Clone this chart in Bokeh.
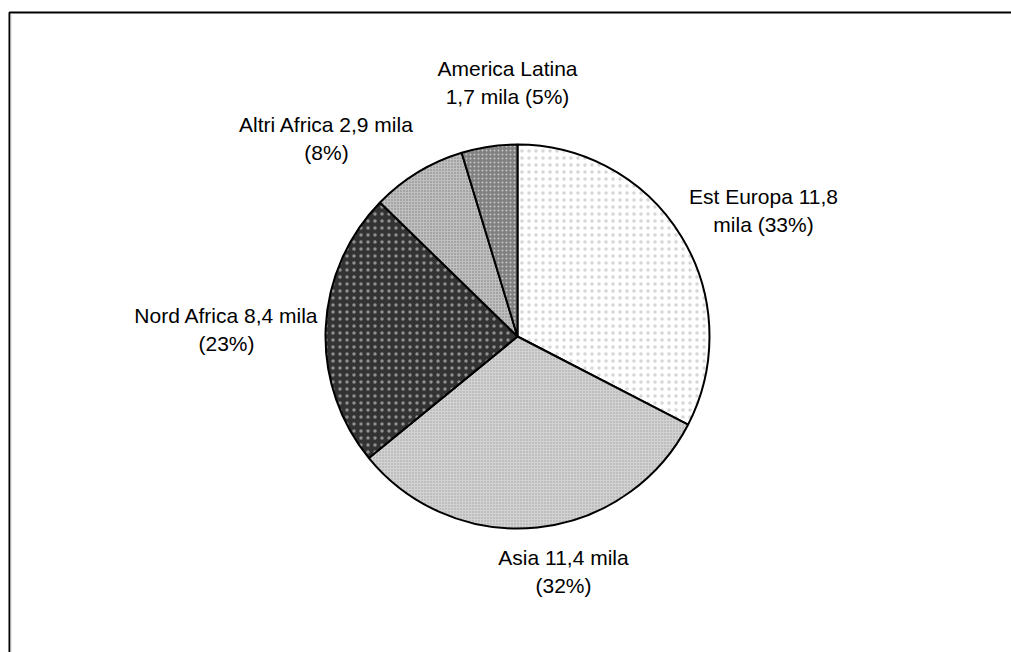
import math

from bokeh.core.properties import value
from bokeh.embed import file_html
from bokeh.models import Range1d
from bokeh.plotting import figure
from bokeh.resources import INLINE

# Foreign residents by area of origin (thousands)
areas = ["Est Europa", "Asia", "Nord Africa", "Altri Africa", "America Latina"]
thousands = [11.8, 11.4, 8.4, 2.9, 1.7]
percent_labels = [33, 32, 23, 8, 5]

# how many words of each label go on its first line
first_line_words = [3, 3, 4, 4, 2]

# page geometry (one data unit = one pixel, y measured downwards then flipped)
W, H = 1011, 652
CX, CY, R = 517, 336, 192
# label block centres, relative to the pie centre
label_offsets = [(246, -126), (46, 235), (-291, -7), (-191, -198), (-10, -254)]
LINE_GAP = 28

# slice styling: base colour + fine dot texture
slice_styles = [
    dict(fill_color="#ffffff", hatch_color="#8a8a8a", hatch_scale=7, hatch_alpha=0.35),
    dict(fill_color="#d2d2d2", hatch_color="#a0a0a0", hatch_scale=3, hatch_alpha=1.0),
    dict(fill_color="#333333", hatch_color="#ffffff", hatch_scale=7, hatch_alpha=0.45),
    dict(fill_color="#c0c0c0", hatch_color="#7a7a7a", hatch_scale=3, hatch_alpha=1.0),
    dict(fill_color="#808080", hatch_color="#ffffff", hatch_scale=4, hatch_alpha=0.55),
]

total = sum(thousands)
starts, ends = [], []
acc = 0.0
for v in thousands:
    a0 = acc / total * 2 * math.pi
    acc += v
    a1 = acc / total * 2 * math.pi
    # clockwise from 12 o'clock
    starts.append(math.pi / 2 - a0)
    ends.append(math.pi / 2 - a1)

p = figure(width=W, height=H, x_range=Range1d(0, W), y_range=Range1d(0, H),
           output_backend="svg", toolbar_location=None, min_border=0)
p.axis.visible = False
p.grid.visible = False
p.outline_line_color = None
p.background_fill_color = "white"
p.border_fill_color = "white"

# chart-area frame
p.quad(left=9, right=W + 20, top=H - 12, bottom=-20,
       fill_color=None, line_color="black", line_width=2)
p.segment(x0=10.5, y0=H - 13, x1=10.5, y1=-20, line_color="#d4d4d4", line_width=1)

for a0, a1, st in zip(starts, ends, slice_styles):
    p.wedge(x=CX, y=H - CY, radius=R, start_angle=a0, end_angle=a1,
            direction="clock", line_color="black", line_width=2,
            hatch_pattern="dot", hatch_weight=0.3, **st)

# two-line data labels
xs, ys, texts = [], [], []
for name, v, pct, nw, (dx, dy) in zip(areas, thousands, percent_labels,
                                      first_line_words, label_offsets):
    words = f"{name} {v:.1f}".replace(".", ",").split() + ["mila", f"({pct}%)"]
    lines = [" ".join(words[:nw]), " ".join(words[nw:])]
    for i, line in enumerate(lines):
        xs.append(CX + dx)
        ys.append(H - (CY + dy + (i - 0.5) * LINE_GAP))
        texts.append(line)

p.text(x=xs, y=ys, text=texts, text_font=value("Liberation Sans"),
       text_font_size="21px", text_color="black",
       text_align="center", text_baseline="middle")

open("out.html", "w").write(file_html(p, INLINE))
